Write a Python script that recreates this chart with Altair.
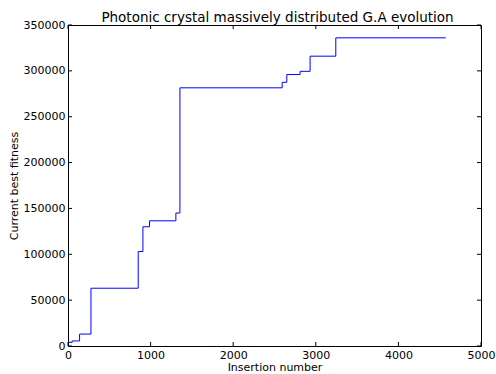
import altair as alt
import pandas as pd

# Step data: insertion number where a new best fitness appears, and that fitness
insertion = [0, 50, 140, 278, 850, 907, 987, 1306, 1355, 2593, 2649, 2810, 2931, 3242, 4573]
best_fitness = [4000, 5500, 13000, 63000, 103000, 130000, 136500, 145000, 281500,
                287500, 296000, 299500, 316000, 336000, 336000]

x_ticks = [0, 1000, 2000, 3000, 4000, 5000]
y_ticks = [0, 50000, 100000, 150000, 200000, 250000, 300000, 350000]

W, H = 413, 321
FONT = "DejaVu Sans"

df = pd.DataFrame({"x": insertion, "y": best_fitness})
xt = pd.DataFrame({"x": x_ticks})
yt = pd.DataFrame({"y": y_ticks})

xs = alt.Scale(domain=[0, 5000], nice=False, zero=False)
ys = alt.Scale(domain=[0, 350000], nice=False, zero=False)
xa = alt.Axis(values=x_ticks, format="d", title="Insertion number", labelPadding=3, titlePadding=1)
ya = alt.Axis(values=y_ticks, format="d", title="Current best fitness", labelPadding=3, titlePadding=4)

line = alt.Chart(df).mark_line(interpolate="step-after", color="#0000ff", strokeWidth=1).encode(
    x=alt.X("x:Q", scale=xs, axis=xa),
    y=alt.Y("y:Q", scale=ys, axis=ya),
)

tick_b = alt.Chart(xt).mark_rule(color="black", strokeWidth=1).encode(
    x=alt.X("x:Q", scale=xs, axis=xa), y=alt.value(H), y2=alt.value(H - 4))
tick_t = alt.Chart(xt).mark_rule(color="black", strokeWidth=1).encode(
    x=alt.X("x:Q", scale=xs, axis=xa), y=alt.value(0), y2=alt.value(4))
tick_l = alt.Chart(yt).mark_rule(color="black", strokeWidth=1).encode(
    y=alt.Y("y:Q", scale=ys, axis=ya), x=alt.value(0), x2=alt.value(4))
tick_r = alt.Chart(yt).mark_rule(color="black", strokeWidth=1).encode(
    y=alt.Y("y:Q", scale=ys, axis=ya), x=alt.value(W - 4), x2=alt.value(W))

chart = alt.layer(line, tick_b, tick_t, tick_l, tick_r).properties(
    width=W, height=H,
    title=alt.TitleParams("Photonic crystal massively distributed G.A evolution",
                          font=FONT, fontSize=13.5, fontWeight="normal", color="black",
                          anchor="middle", offset=-5, dx=3),
    autosize=alt.AutoSizeParams(type="none"),
    padding={"left": 68, "top": 25, "right": 15, "bottom": 28},
).configure(background="white").configure_view(stroke="black", strokeWidth=1).configure_axis(
    domain=False, grid=False, ticks=False,
    labelFont=FONT, labelFontSize=11, labelColor="black",
    labelFlush=False, labelOverlap=False, labelBound=False,
    titleFont=FONT, titleFontSize=11, titleFontWeight="normal", titleColor="black",
)

chart.save("out.html", embed_options={"renderer": "svg", "actions": False})
